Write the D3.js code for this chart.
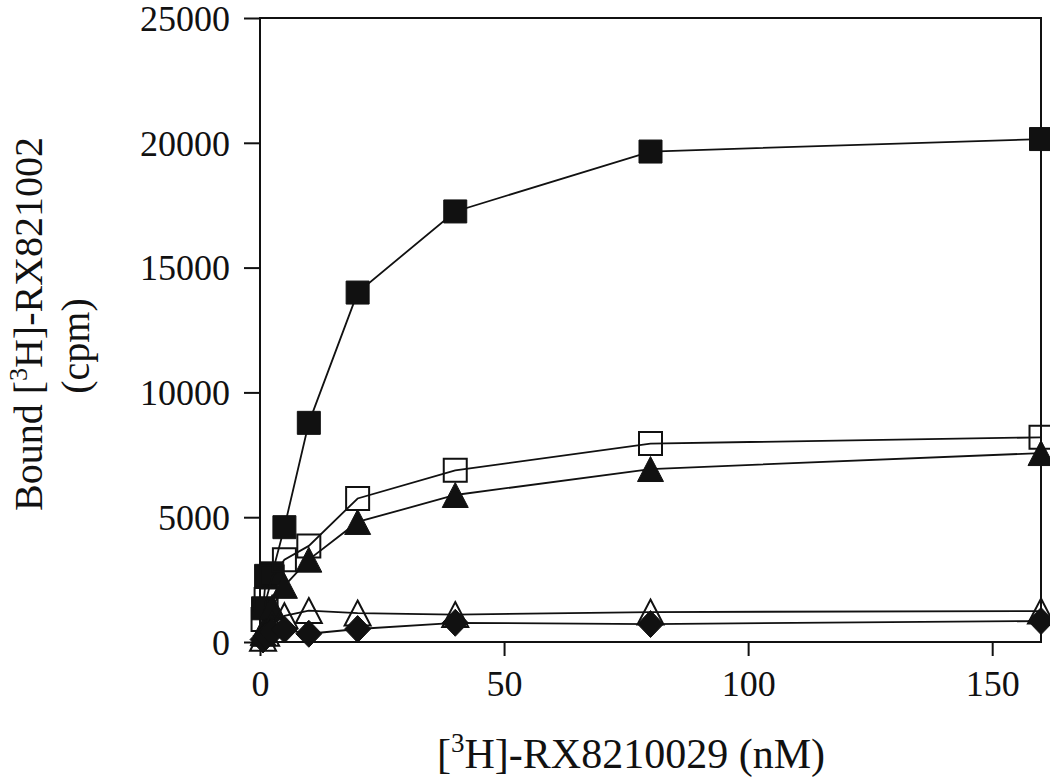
<!DOCTYPE html>
<html>
<head>
<meta charset="utf-8">
<script src="https://cdn.jsdelivr.net/npm/d3@7"></script>
<style>
  html, body { margin: 0; padding: 0; background: #fff; }
  svg { display: block; }
  text { font-family: "Liberation Serif", "Times New Roman", serif; fill: #111; }
</style>
</head>
<body>
<svg id="chart" width="1050" height="783"></svg>
<script>
// ---- data ----
const concentrations = [0.625, 1.25, 2.5, 5, 10, 20, 40, 80, 160];
const filledSquares   = [1350, 2650, 2750, 4600, 8780, 14000, 17250, 19650, 20150];
const openSquares     = [900, 1700, 2600, 3300, 3850, 5750, 6880, 7950, 8200];
const filledTriangles = [350, 700, 1400, 2250, 3300, 4810, 5890, 6930, 7570];
const openTriangles   = [150, 350, 700, 1050, 1260, 1160, 1100, 1200, 1240];
const filledDiamonds  = [100, 250, 400, 500, 330, 520, 770, 720, 840];
const xTicks = [0, 50, 100, 150];
const yTicks = [0, 5000, 10000, 15000, 20000, 25000];

const series = [
  { values: filledSquares,   shape: "square",   filled: true  },
  { values: openSquares,     shape: "square",   filled: false },
  { values: filledTriangles, shape: "triangle", filled: true  },
  { values: openTriangles,   shape: "triangle", filled: false },
  { values: filledDiamonds,  shape: "diamond",  filled: true  }
];

// ---- layout ----
const svg = d3.select("#chart");
const L = 260, R = 1041, T = 18, B = 642;
const x = d3.scaleLinear().domain([0, 160]).range([L, R]);
const y = d3.scaleLinear().domain([0, 25000]).range([B, T]);

const ink = "#111";

// frame
svg.append("rect")
  .attr("x", L).attr("y", T).attr("width", R - L).attr("height", B - T)
  .attr("fill", "none").attr("stroke", ink).attr("stroke-width", 2);

// axes
const yAxis = d3.axisLeft(y).tickValues(yTicks).tickSize(16).tickPadding(14)
  .tickFormat(d3.format("d"));
const gy = svg.append("g").attr("transform", `translate(${L},0)`).call(yAxis);
gy.select(".domain").remove();
gy.selectAll(".tick line").attr("stroke", ink).attr("stroke-width", 2);
gy.selectAll(".tick text").attr("font-size", 36).attr("fill", ink)
  .style("font-family", '"Liberation Serif", serif').attr("dy", "0.34em");

const xAxis = d3.axisBottom(x).tickValues(xTicks).tickSize(14).tickPadding(14)
  .tickFormat(d3.format("d"));
const gx = svg.append("g").attr("transform", `translate(0,${B})`).call(xAxis);
gx.select(".domain").remove();
gx.selectAll(".tick line").attr("stroke", ink).attr("stroke-width", 2);
gx.selectAll(".tick text").attr("font-size", 36).attr("fill", ink)
  .style("font-family", '"Liberation Serif", serif').attr("dy", "0.72em");

// ---- series ----
const line = d3.line().x(d => x(d[0])).y(d => y(d[1]));

function shapePath(shape) {
  if (shape === "square") {
    const h = 11.5;
    return `M${-h},${-h}H${h}V${h}H${-h}Z`;
  }
  if (shape === "triangle") {
    const w = 13, h = 12.5;
    return `M0,${-h}L${w},${h}L${-w},${h}Z`;
  }
  // diamond
  const w = 13, h = 13.5;
  return `M0,${-h}L${w},0L0,${h}L${-w},0Z`;
}

series.forEach(s => {
  const pts = concentrations.map((c, i) => [c, s.values[i]]);
  const g = svg.append("g");
  g.append("path").datum(pts)
    .attr("d", line).attr("fill", "none")
    .attr("stroke", ink).attr("stroke-width", 1.8);
  g.selectAll("path.m").data(pts).join("path")
    .attr("class", "m")
    .attr("transform", d => `translate(${x(d[0])},${y(d[1])})`)
    .attr("d", shapePath(s.shape))
    .attr("fill", s.filled ? ink : "none")
    .attr("stroke", ink)
    .attr("stroke-width", s.filled ? 1 : 2);
});

// ---- axis titles ----
const xt = svg.append("text")
  .attr("x", 631).attr("y", 768)
  .attr("text-anchor", "middle").attr("font-size", 42);
xt.append("tspan").text("[");
xt.append("tspan").text("3").attr("font-size", 27).attr("dy", -16);
xt.append("tspan").text("H]-RX8210029 (nM)").attr("dy", 16);

const yt = svg.append("text")
  .attr("transform", "rotate(-90)")
  .attr("x", -324).attr("y", 42)
  .attr("text-anchor", "middle").attr("font-size", 40);
yt.append("tspan").text("Bound [");
yt.append("tspan").text("3").attr("font-size", 26).attr("dy", -15);
yt.append("tspan").text("H]-RX821002").attr("dy", 15);

svg.append("text")
  .attr("transform", "rotate(-90)")
  .attr("x", -346).attr("y", 89)
  .attr("text-anchor", "middle").attr("font-size", 40)
  .text("(cpm)");
</script>
</body>
</html>
